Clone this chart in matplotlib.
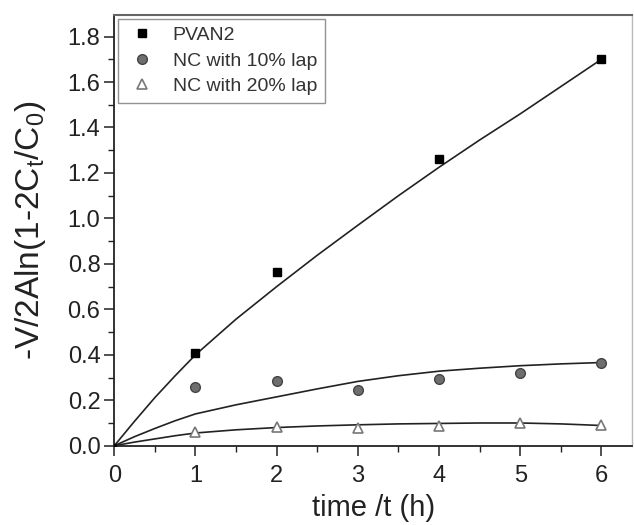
import matplotlib
matplotlib.use("Agg")
import matplotlib.pyplot as plt
from matplotlib.ticker import MultipleLocator

plt.rcParams['font.family'] = ['Liberation Sans', 'DejaVu Sans']
plt.rcParams['mathtext.default'] = 'regular'

# measured points
t_pvan = [1, 2, 4, 6]
v_pvan = [0.406, 0.765, 1.262, 1.700]
t_nc = [1, 2, 3, 4, 5, 6]
v_nc10 = [0.258, 0.285, 0.245, 0.293, 0.321, 0.365]
v_nc20 = [0.060, 0.081, 0.078, 0.087, 0.100, 0.091]

# fitted curves
t_fit = [0, 0.25, 0.5, 0.75, 1, 1.5, 2, 2.5, 3, 3.5, 4, 4.5, 5, 5.5, 6]
f_pvan = [0, 0.108, 0.212, 0.308, 0.400, 0.557, 0.700, 0.838, 0.970, 1.100, 1.225, 1.345, 1.460, 1.580, 1.700]
f_nc10 = [0, 0.040, 0.076, 0.110, 0.140, 0.180, 0.215, 0.250, 0.283, 0.308, 0.328, 0.341, 0.352, 0.360, 0.366]
f_nc20 = [0, 0.016, 0.030, 0.044, 0.056, 0.070, 0.080, 0.087, 0.092, 0.096, 0.098, 0.100, 0.100, 0.096, 0.089]

labels = ['PVAN2', 'NC with 10% lap', 'NC with 20% lap']
xticks = [0, 1, 2, 3, 4, 5, 6]
yticks = [0.0, 0.2, 0.4, 0.6, 0.8, 1.0, 1.2, 1.4, 1.6, 1.8]

fig = plt.figure(figsize=(6.34, 5.25), dpi=100)
ax = fig.add_axes([0.1803, 0.151, 0.817, 0.8205])

lc = '#222222'
ax.plot(t_fit, f_pvan, color=lc, lw=1.2, zorder=2)
ax.plot(t_fit, f_nc10, color=lc, lw=1.2, zorder=2)
ax.plot(t_fit, f_nc20, color=lc, lw=1.2, zorder=2)

ax.plot(t_pvan, v_pvan, 's', ms=6, mfc='black', mec='black', ls='none', label=labels[0], zorder=3)
ax.plot(t_nc, v_nc10, 'o', ms=7, mfc='#6e6e6e', mec='#444444', mew=1.0, ls='none', label=labels[1], zorder=3)
ax.plot(t_nc, v_nc20, '^', ms=7.5, mfc='white', mec='#777777', mew=1.2, ls='none', label=labels[2], zorder=3)
ax.plot([0], [0], 'o', ms=3, color='black', zorder=4)

ax.set_xlim(0, 6.38)
ax.set_ylim(0, 1.895)
ax.set_xticks(xticks)
ax.set_yticks(yticks)
ax.set_yticklabels([f'{v:.1f}' for v in yticks])
ax.xaxis.set_minor_locator(MultipleLocator(0.5))
ax.yaxis.set_minor_locator(MultipleLocator(0.1))
ax.tick_params(which='major', direction='out', length=7, width=1.1, labelsize=17, colors='#222222')
ax.tick_params(axis='x', which='major', pad=7)
ax.tick_params(axis='y', which='major', pad=3)
ax.tick_params(which='minor', direction='out', length=4, width=1.0, colors='#222222')
ax.tick_params(top=False, right=False, which='both')

for s in ['left', 'bottom']:
    ax.spines[s].set_linewidth(1.3)
    ax.spines[s].set_color('#222222')
ax.spines['top'].set_linewidth(1.5)
ax.spines['top'].set_color('#666666')
ax.spines['right'].set_linewidth(1.0)
ax.spines['right'].set_color('#bbbbbb')

ax.set_xlabel('time /t (h)', fontsize=21, labelpad=5, color='#222222')
ax.set_ylabel('-V/2Aln(1-2C$_{t}$/C$_{0}$)', fontsize=24, labelpad=14, color='#222222')

leg = ax.legend(loc='upper left', fontsize=14, frameon=True, fancybox=False,
                borderaxespad=0.2, handletextpad=0.8, labelspacing=0.4,
                handlelength=1.6, borderpad=0.4)
leg.get_frame().set_edgecolor('#777777')
leg.get_frame().set_linewidth(1.0)
for txt in leg.get_texts():
    txt.set_color('#333333')

fig.savefig('out.png', dpi=100)
